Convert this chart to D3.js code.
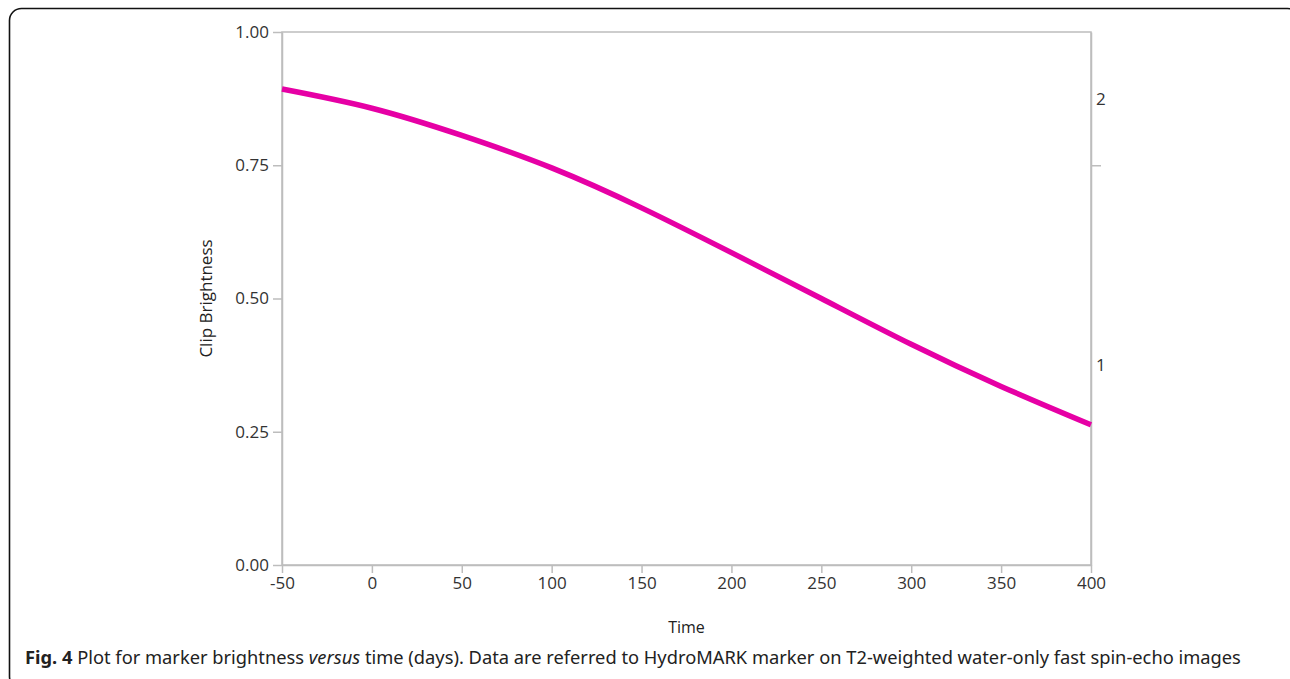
<!DOCTYPE html>
<html>
<head>
<meta charset="utf-8">
<script src="https://cdn.jsdelivr.net/npm/d3@7"></script>
<style>
  html, body { margin: 0; padding: 0; background: #fff; overflow: hidden; }
  svg { display: block; }
</style>
</head>
<body>
<script>
// values
const times = [-50, 0, 50, 100, 150, 200, 250, 300, 350, 400];
const brightness = [0.893, 0.857, 0.806, 0.745, 0.670, 0.586, 0.500, 0.414, 0.335, 0.263];
const xTicks = [-50, 0, 50, 100, 150, 200, 250, 300, 350, 400];
const yTicks = [0, 0.25, 0.5, 0.75, 1];
const rightBreaks = [0.75];
const rightLabels = [{ label: '1', from: 0, to: 0.75 }, { label: '2', from: 0.75, to: 1 }];

const width = 1290;
const height = 679;
const margin = { top: 32, right: 199, bottom: 114, left: 282 };
const axisColor = '#bdbdbd';
const textColor = '#333';
const font = "'Open Sans', 'Noto Sans', sans-serif";

const svg = d3.select('body')
  .append('svg')
  .attr('width', width)
  .attr('height', height);

// outer frame with rounded corners (cut off at right and bottom)
svg.append('rect')
  .attr('x', 9.5)
  .attr('y', 8.5)
  .attr('width', 1290)
  .attr('height', 680)
  .attr('rx', 12)
  .attr('fill', 'none')
  .attr('stroke', '#111')
  .attr('stroke-width', 1.6);

const xScale = d3.scaleLinear()
  .domain([-50, 400])
  .range([margin.left, width - margin.right]);

const yScale = d3.scaleLinear()
  .domain([0, 1])
  .range([height - margin.bottom, margin.top]);

// plot box
svg.append('rect')
  .attr('x', xScale(-50))
  .attr('y', yScale(1))
  .attr('width', xScale(400) - xScale(-50))
  .attr('height', yScale(0) - yScale(1))
  .attr('fill', 'none')
  .attr('stroke', axisColor)
  .attr('stroke-width', 1.5);

// plain hyphen for negatives, like the original
const intFormat = (d) => String(d);

const xAxis = d3.axisBottom(xScale)
  .tickValues(xTicks)
  .tickSize(8)
  .tickSizeOuter(0)
  .tickPadding(4)
  .tickFormat(intFormat);

const yAxis = d3.axisLeft(yScale)
  .tickValues(yTicks)
  .tickSize(9)
  .tickSizeOuter(0)
  .tickPadding(4)
  .tickFormat(d3.format('.2f'));

const rightAxis = d3.axisRight(yScale)
  .tickValues(rightBreaks)
  .tickSize(10)
  .tickSizeOuter(0)
  .tickFormat('');

function styleAxis(g) {
  g.select('.domain').attr('stroke', axisColor).attr('stroke-width', 1.5);
  g.selectAll('.tick line').attr('stroke', axisColor).attr('stroke-width', 1.5);
  g.selectAll('.tick text')
    .attr('fill', textColor)
    .style('font-family', font)
    .style('font-size', '17px');
}

svg.append('g')
  .attr('id', 'x-axis')
  .attr('transform', `translate(0, ${yScale(0)})`)
  .call(xAxis)
  .call(styleAxis);

svg.append('g')
  .attr('id', 'y-axis')
  .attr('transform', `translate(${xScale(-50)}, 0)`)
  .call(yAxis)
  .call(styleAxis);

svg.append('g')
  .attr('id', 'y2-axis')
  .attr('transform', `translate(${xScale(400)}, 0)`)
  .call(rightAxis)
  .call(styleAxis);

// category labels on the right axis, centred in their bands
svg.append('g')
  .selectAll('text')
  .data(rightLabels)
  .join('text')
  .attr('x', xScale(400) + 5)
  .attr('y', (d) => yScale((d.from + d.to) / 2))
  .attr('dy', '0.35em')
  .attr('fill', textColor)
  .style('font-family', font)
  .style('font-size', '17px')
  .text((d) => d.label);

// axis titles
svg.append('text')
  .attr('x', (xScale(-50) + xScale(400)) / 2)
  .attr('y', 633)
  .attr('text-anchor', 'middle')
  .attr('fill', '#222')
  .style('font-family', font)
  .style('font-size', '16px')
  .text('Time');

svg.append('text')
  .attr('transform', `translate(212, ${yScale(0.5)}) rotate(-90)`)
  .attr('text-anchor', 'middle')
  .attr('fill', '#222')
  .style('font-family', font)
  .style('font-size', '17px')
  .text('Clip Brightness');

// fitted curve
const line = d3.line()
  .x((d, i) => xScale(times[i]))
  .y((d) => yScale(d))
  .curve(d3.curveNatural);

svg.append('path')
  .datum(brightness)
  .attr('fill', 'none')
  .attr('stroke', '#e600a5')
  .attr('stroke-width', 5.5)
  .attr('d', line);

// caption
const caption = svg.append('text')
  .attr('x', 25)
  .attr('y', 664)
  .attr('fill', '#222')
  .style('font-family', "'Noto Sans', sans-serif")
  .style('font-size', '18.3px');

caption.append('tspan').attr('font-weight', 'bold').text('Fig. 4');
caption.append('tspan').text(' Plot for marker brightness ');
caption.append('tspan').attr('font-style', 'italic').text('versus');
caption.append('tspan').text(' time (days). Data are referred to HydroMARK marker on T2-weighted water-only fast spin-echo images');
</script>
</body>
</html>
